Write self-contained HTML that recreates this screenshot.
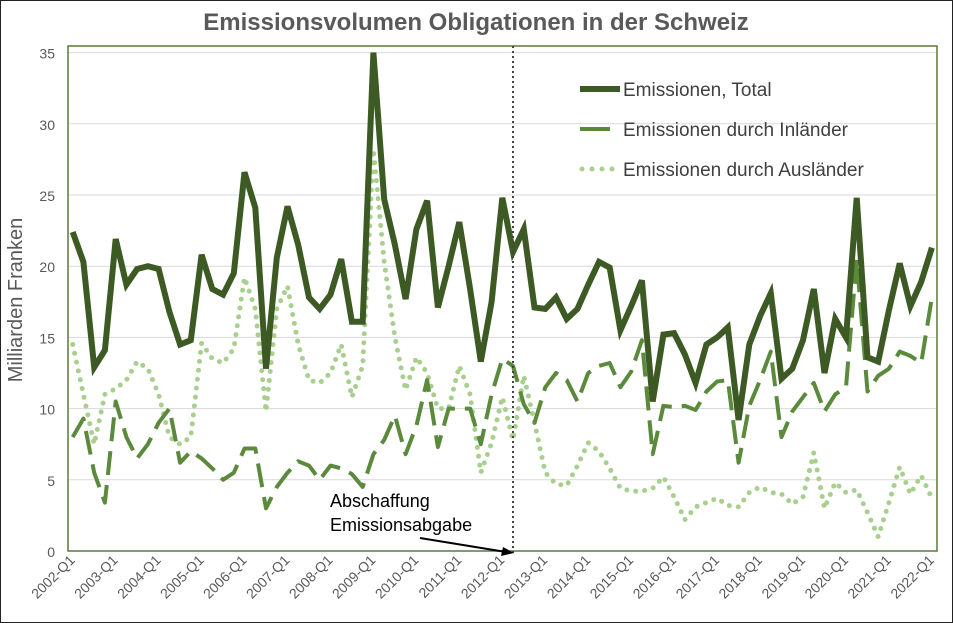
<!DOCTYPE html>
<html><head><meta charset="utf-8"><style>
body{margin:0;background:#fff;}
svg{display:block;font-family:"Liberation Sans",sans-serif;}
</style></head><body>
<svg id="chart" width="953" height="623">
<rect x="0.5" y="0.5" width="952" height="622" fill="#fff" stroke="#222" stroke-width="1"/>
<text x="476" y="30" text-anchor="middle" font-size="24" font-weight="bold" fill="#595959">Emissionsvolumen Obligationen in der Schweiz</text>
<text transform="translate(22,300) rotate(-90)" text-anchor="middle" font-size="20" fill="#595959">Milliarden Franken</text>
<g id="grid"></g><g id="series"></g><g id="axes"></g>
<rect x="68" y="46" width="869" height="505" fill="none" stroke="#5a7a3a" stroke-width="1.5"/>
<line x1="513" y1="46" x2="513" y2="553" stroke="#444" stroke-width="2" stroke-dasharray="2,3"/>
<text x="330" y="507" font-size="18" fill="#000">Abschaffung</text>
<text x="330" y="531" font-size="18" fill="#000">Emissionsabgabe</text>
<line x1="420" y1="538" x2="506" y2="552" stroke="#000" stroke-width="2"/>
<polygon points="514,553 503,547 501,556" fill="#000"/>
<g>
<line x1="580" y1="89" x2="620" y2="89" stroke="#3d5a25" stroke-width="6"/>
<text x="623" y="96" font-size="19" fill="#404040">Emissionen, Total</text>
<line x1="580" y1="129" x2="610" y2="129" stroke="#5b8a3c" stroke-width="4"/>
<text x="623" y="136" font-size="19" fill="#404040">Emissionen durch Inländer</text>
<line x1="582" y1="169" x2="618" y2="169" stroke="#a8cf8e" stroke-width="5" stroke-linecap="round" stroke-dasharray="0,10"/>
<text x="623" y="176" font-size="19" fill="#404040">Emissionen durch Ausländer</text>
</g>
</svg>
<script>
const yTicks=[0,5,10,15,20,25,30,35];
const years=[2002,2003,2004,2005,2006,2007,2008,2009,2010,2011,2012,2013,2014,2015,2016,2017,2018,2019,2020,2021,2022];
const total=[22.4,20.3,12.9,14.1,21.9,18.7,19.8,20.0,19.8,16.8,14.5,14.8,20.8,18.4,18.0,19.5,26.6,24.1,12.8,20.6,24.2,21.5,17.8,17.0,18.0,20.5,16.1,16.1,35.0,24.7,21.5,17.7,22.6,24.6,17.1,20.0,23.1,18.4,13.3,17.5,24.8,21.0,22.6,17.1,17.0,17.8,16.3,17.0,18.7,20.3,19.9,15.5,17.2,19.0,10.5,15.2,15.3,13.8,11.8,14.5,15.0,15.7,9.2,14.5,16.5,18.1,12.1,12.8,14.8,18.4,12.5,16.3,15.0,24.8,13.6,13.3,16.9,20.2,17.2,18.9,21.3];
const inland=[8,9.3,5.5,3.4,10.5,8,6.5,7.5,9,10,6.2,7,6.5,5.8,5.0,5.5,7.2,7.2,3.0,4.5,5.5,6.3,6.0,5.0,6.0,5.8,5.4,4.5,6.8,7.8,9.5,6.8,8.8,12.0,7.3,10.0,10.0,10.0,7.5,11.0,13.5,13.0,10.3,9.0,11.5,12.5,12.0,10.5,12.5,13.0,13.2,11.5,12.6,14.8,6.8,10.2,10.1,10.2,9.9,11.2,11.9,12.0,6.2,10.2,12.0,14.0,8.0,9.8,10.8,11.8,9.8,11.0,11.5,20.5,11.2,12.3,12.8,14.0,13.7,13.2,17.8];
const foreign=[14.5,11,7.5,11,11.4,12,13.3,12.8,11,8.0,7.5,8.0,14.6,13.5,13.2,14.2,19.2,17.0,9.8,17.0,18.6,14.5,12.0,11.8,12.5,14.5,10.8,13.0,28.2,20.3,15.0,11.3,13.6,12.5,10.0,10.0,13.0,11.0,5.5,7.6,10.8,7.8,12.3,9.0,5.5,4.7,4.6,6.0,7.6,7.0,5.8,4.4,4.2,4.2,4.4,5.2,3.8,2.2,3.1,3.4,3.7,3.2,3.1,4.1,4.5,4.1,4.0,3.3,3.8,6.9,3.0,4.8,4.1,4.3,2.7,1.0,3.4,5.9,4.0,5.3,3.7];
const NS='http://www.w3.org/2000/svg';
const x=i=>72.7+i*10.74;
const y=v=>551-v*14.24;
function mk(t,a,p){const e=document.createElementNS(NS,t);for(const k in a)e.setAttribute(k,a[k]);p.appendChild(e);return e;}
const grid=document.getElementById('grid'),axes=document.getElementById('axes'),ser=document.getElementById('series');
yTicks.forEach(v=>{
 if(v>0){const g=mk('line',{x1:68,x2:937,y1:y(v),y2:y(v),stroke:'#d9d9d9','stroke-width':1},grid);
 
 }
 const t=mk('text',{x:55,y:y(v)+6,'text-anchor':'end','font-size':14,fill:'#595959'},axes);t.textContent=v;
 
 
});
years.forEach((yr,k)=>{
 const px=x(k*4);
 const t=mk('text',{transform:`translate(${px+3},${561}) rotate(-45)`,'text-anchor':'end','font-size':14,fill:'#595959'},axes);
 t.textContent=yr+'-Q1';
 
 
});
function line(arr,attrs,name){
 const d=arr.map((v,i)=>(i?'L':'M')+x(i).toFixed(1)+','+y(v).toFixed(1)).join('');
 const p=mk('path',Object.assign({d:d,fill:'none'},attrs),ser);
 
 
}
line(foreign,{stroke:'#a8cf8e','stroke-width':5,'stroke-linecap':'round','stroke-dasharray':'0,9'},'series-foreign');
line(inland,{stroke:'#5b8a3c','stroke-width':4,'stroke-dasharray':'24,10','stroke-linejoin':'round'},'series-inland');
line(total,{stroke:'#3d5a25','stroke-width':6,'stroke-linejoin':'miter'},'series-total');
</script>
</body></html>
